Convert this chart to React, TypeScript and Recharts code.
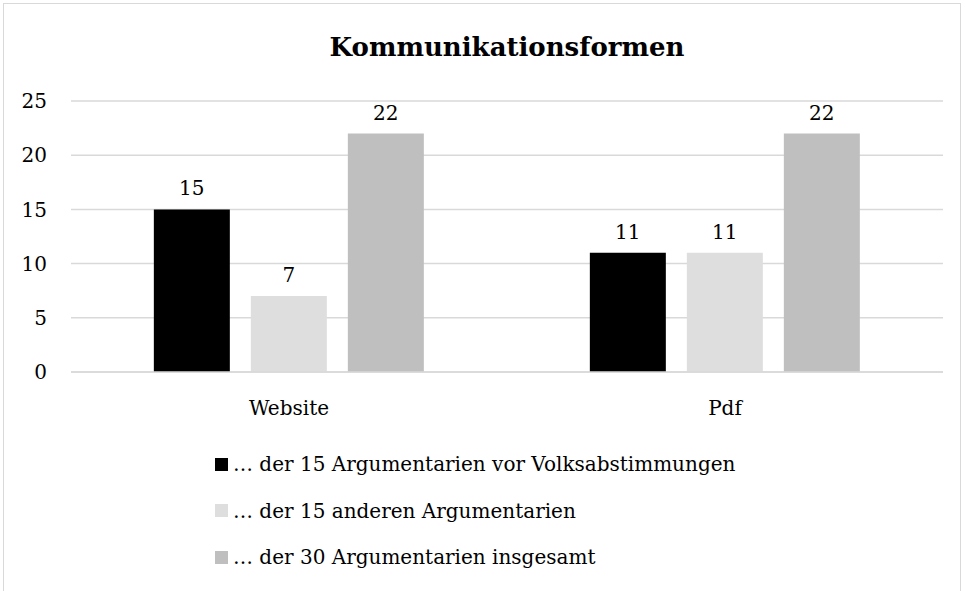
import { BarChart, Bar, XAxis, YAxis, CartesianGrid, LabelList, Legend } from "recharts";

const categories = ["Website", "Pdf"];
const vorVolksabstimmungen = [15, 11];
const andere = [7, 11];
const insgesamt = [22, 22];
const yTicks = [0, 5, 10, 15, 20, 25];

const SERIES = [
  { key: "vor", name: "… der 15 Argumentarien vor Volksabstimmungen", color: "#000000" },
  { key: "andere", name: "… der 15 anderen Argumentarien", color: "#dedede" },
  { key: "gesamt", name: "… der 30 Argumentarien insgesamt", color: "#bfbfbf" },
];

const data = categories.map((name, i) => ({
  name,
  vor: vorVolksabstimmungen[i],
  andere: andere[i],
  gesamt: insgesamt[i],
}));

const FONT = "'DejaVu Serif', 'Liberation Serif', serif";

function LegendBox() {
  return (
    <div style={{ fontFamily: FONT, fontSize: 20, color: "#000" }}>
      {SERIES.map((s) => (
        <div key={s.key} style={{ display: "flex", alignItems: "center", height: 46.5 }}>
          <span style={{ width: 13, height: 13, background: s.color, display: "inline-block", marginRight: 5 }} />
          <span>{s.name}</span>
        </div>
      ))}
    </div>
  );
}

export default function App() {
  return (
    <div style={{ position: "absolute", left: 0, top: 0, width: 965, height: 591, overflow: "hidden", background: "#fff" }}>
      <div
        style={{
          position: "absolute",
          left: 3,
          top: 3,
          width: 958,
          height: 620,
          border: "1.5px solid #d9d9d9",
          boxSizing: "border-box",
        }}
      />
      <div
        style={{
          position: "absolute",
          top: 32,
          left: 0,
          width: 1014,
          textAlign: "center",
          fontFamily: FONT,
          fontWeight: "bold",
          fontSize: 26,
          color: "#000",
        }}
      >
        Kommunikationsformen
      </div>
      <BarChart
        width={965}
        height={591}
        data={data}
        margin={{ top: 101, right: 22, bottom: 179, left: 21 }}
        barCategoryGap="19%"
        barGap={21}
      >
        <CartesianGrid vertical={false} stroke="#d9d9d9" strokeWidth={1.5} />
        <XAxis
          dataKey="name"
          axisLine={{ stroke: "#d9d9d9", strokeWidth: 1.5 }}
          tickLine={false}
          tickSize={0}
          tickMargin={29}
          height={40}
          tick={{ fill: "#000", fontSize: 20, fontFamily: FONT }}
        />
        <YAxis
          domain={[0, 25]}
          ticks={yTicks}
          axisLine={false}
          tickLine={false}
          tickSize={0}
          tickMargin={24}
          width={50}
          tick={{ fill: "#000", fontSize: 20, fontFamily: FONT }}
        />
        <Legend
          layout="vertical"
          align="center"
          verticalAlign="middle"
          content={<LegendBox />}
          wrapperStyle={{ position: "absolute", left: 215, top: 441, width: 650 }}
        />
        {SERIES.map((s) => (
          <Bar key={s.key} dataKey={s.key} name={s.name} fill={s.color} isAnimationActive={false}>
            <LabelList dataKey={s.key} position="top" offset={14} fill="#000" fontSize={20} fontFamily={FONT} />
          </Bar>
        ))}
      </BarChart>
    </div>
  );
}
